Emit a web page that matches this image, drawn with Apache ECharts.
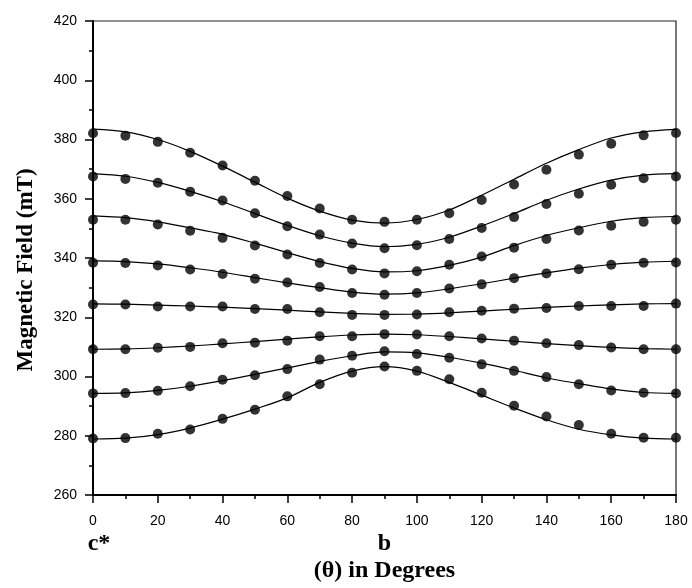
<!DOCTYPE html>
<html>
<head>
<meta charset="utf-8">
<script src="https://cdn.jsdelivr.net/npm/echarts@6/dist/echarts.min.js"></script>
<style>html,body{margin:0;padding:0;background:#fff;}#c{width:692px;height:588px;}</style>
</head>
<body>
<div id="c"></div>
<script>
const angles = [0,10,20,30,40,50,60,70,80,90,100,110,120,130,140,150,160,170,180];
const xTicks = [0,20,40,60,80,100,120,140,160,180];
const yTicks = [260,280,300,320,340,360,380,400,420];

const dots1 = [382.1,381.3,379.2,375.5,371.2,366.1,360.9,356.7,352.9,352.2,352.9,355.1,359.6,364.8,369.8,374.9,378.6,381.4,382.2];
const dots2 = [367.5,366.7,365.4,362.4,359.4,355.1,350.7,347.9,344.9,343.3,344.3,346.4,350.1,353.8,358.2,361.7,364.7,366.9,367.5];
const dots3 = [352.9,352.9,351.3,349.2,346.8,344.2,341.2,338.3,336.1,334.8,335.5,337.7,340.5,343.5,346.4,349.3,350.9,352.2,352.9];
const dots4 = [338.4,338.3,337.5,336.1,334.6,333.0,331.7,330.2,328.2,327.6,328.2,329.7,331.1,333.2,334.8,336.2,337.7,338.4,338.5];
const dots5 = [324.3,324.3,323.6,323.6,323.6,322.8,322.8,321.7,320.8,320.8,320.9,321.7,322.2,322.9,323.1,323.8,323.8,323.8,324.6];
const dots6 = [309.2,309.2,309.7,310.0,311.2,311.4,312.1,313.6,313.6,314.3,314.2,313.6,312.8,312.1,311.2,310.6,309.8,309.2,309.2];
const dots7 = [294.3,294.4,295.2,296.7,298.9,300.4,302.5,305.7,307.0,308.5,307.6,306.3,304.1,301.9,299.8,297.4,295.3,294.5,294.3];
const dots8 = [279.1,279.2,280.7,282.1,285.7,288.8,293.3,297.4,301.3,303.4,301.9,299.1,294.5,290.1,286.5,283.6,280.7,279.3,279.3];

const fit1 = [383.5,382.6,380.0,376.0,371.0,365.6,360.2,355.8,352.8,351.8,353.0,356.2,361.2,366.6,372.0,376.6,380.5,382.6,383.4];
const fit2 = [368.5,367.6,365.5,362.5,359.0,355.0,351.0,347.5,345.0,343.8,344.6,347.0,350.8,355.0,359.5,363.3,366.3,368.0,368.5];
const fit3 = [354.2,353.6,352.2,350.2,348.0,345.0,341.8,338.8,336.5,335.3,335.7,337.5,340.3,344.2,347.6,350.2,352.4,353.6,354.0];
const fit4 = [339.0,338.8,338.0,336.7,335.2,333.4,331.6,330.0,328.5,327.8,328.2,329.6,331.3,333.2,335.0,336.6,337.8,338.6,338.9];
const fit5 = [324.5,324.4,324.1,323.8,323.4,322.9,322.4,321.8,321.3,321.0,321.1,321.5,322.1,322.7,323.3,323.8,324.2,324.5,324.6];
const fit6 = [309.2,309.3,309.7,310.3,311.0,311.8,312.6,313.4,314.0,314.3,314.1,313.5,312.7,311.9,311.1,310.4,309.8,309.4,309.2];
const fit7 = [294.3,294.5,295.3,296.7,298.6,300.7,302.9,305.1,307.0,308.3,308.0,306.5,304.5,302.1,299.5,297.6,295.8,294.6,294.3];
const fit8 = [278.9,279.2,280.4,282.6,285.6,289.0,292.8,298.0,301.8,303.3,301.8,298.0,293.7,289.4,285.4,282.2,280.3,279.2,278.9];

const dotSets = [dots1,dots2,dots3,dots4,dots5,dots6,dots7,dots8];
const fitSets = [fit1,fit2,fit3,fit4,fit5,fit6,fit7,fit8];

const axisLabels = ['c*', 'b'];
const axisLabelAngles = [0, 90];

const pair = (ys) => angles.map((a, i) => [a, ys[i]]);

const series = [];
fitSets.forEach((f) => {
  series.push({
    type: 'line', data: pair(f), showSymbol: false, smooth: 0.3,
    lineStyle: { color: '#000', width: 1.2 }, silent: true, z: 2
  });
});
dotSets.forEach((d) => {
  series.push({
    type: 'scatter', data: pair(d), symbol: 'circle', symbolSize: 10,
    itemStyle: { color: '#000' }, z: 3
  });
});

const chart = echarts.init(document.getElementById('c'), null, { renderer: 'canvas' });
const labelFont = 'Liberation Sans, Arial, sans-serif';
const serifFont = '"Liberation Serif", "Times New Roman", serif';

chart.setOption({
  animation: false,
  backgroundColor: '#fff',
  grid: { left: 93, right: 16, top: 21, bottom: 92, show: true, borderColor: '#222', borderWidth: 1.2 },
  xAxis: {
    type: 'value', min: xTicks[0], max: xTicks[xTicks.length - 1], interval: 20,
    axisLine: { show: true, onZero: false, lineStyle: { color: '#000', width: 2 } },
    axisTick: { show: true, inside: false, length: 8, lineStyle: { color: '#000', width: 1.5 } },
    minorTick: { show: true, splitNumber: 2, length: 4, lineStyle: { color: '#000', width: 1.5 } },
    splitLine: { show: false },
    axisLabel: { color: '#000', fontSize: 14, fontFamily: labelFont, margin: 19 },
    name: '(θ) in Degrees', nameLocation: 'middle', nameGap: 64,
    nameTextStyle: { color: '#000', fontSize: 24, fontWeight: 'bold', fontFamily: serifFont }
  },
  yAxis: {
    type: 'value', min: yTicks[0], max: yTicks[yTicks.length - 1], interval: 20,
    axisLine: { show: true, onZero: false, lineStyle: { color: '#000', width: 2 } },
    axisTick: { show: true, inside: false, length: 8, lineStyle: { color: '#000', width: 1.5 } },
    minorTick: { show: true, splitNumber: 2, length: 4, lineStyle: { color: '#000', width: 1.5 } },
    splitLine: { show: false },
    axisLabel: { color: '#000', fontSize: 14, fontFamily: labelFont, margin: 16 }
  },
  series: series
});

function placeTexts() {
  const bottomY = chart.convertToPixel({ yAxisIndex: 0 }, yTicks[0]);
  const topY = chart.convertToPixel({ yAxisIndex: 0 }, yTicks[yTicks.length - 1]);
  const gEls = axisLabels.map((t, i) => ({
    type: 'text',
    x: chart.convertToPixel({ xAxisIndex: 0 }, axisLabelAngles[i]) + (i === 0 ? 6 : 0),
    y: bottomY + 49,
    style: { text: t, font: 'bold 24px ' + serifFont, fill: '#000', align: 'center', verticalAlign: 'middle' }
  }));
  gEls.push({
    type: 'text', x: 26, y: (topY + bottomY) / 2 + 12, rotation: Math.PI / 2,
    style: { text: 'Magnetic Field (mT)', font: 'bold 23px ' + serifFont, fill: '#000', align: 'center', verticalAlign: 'middle' }
  });
  chart.setOption({ graphic: { elements: gEls } });
}
placeTexts();
</script>
</body>
</html>
